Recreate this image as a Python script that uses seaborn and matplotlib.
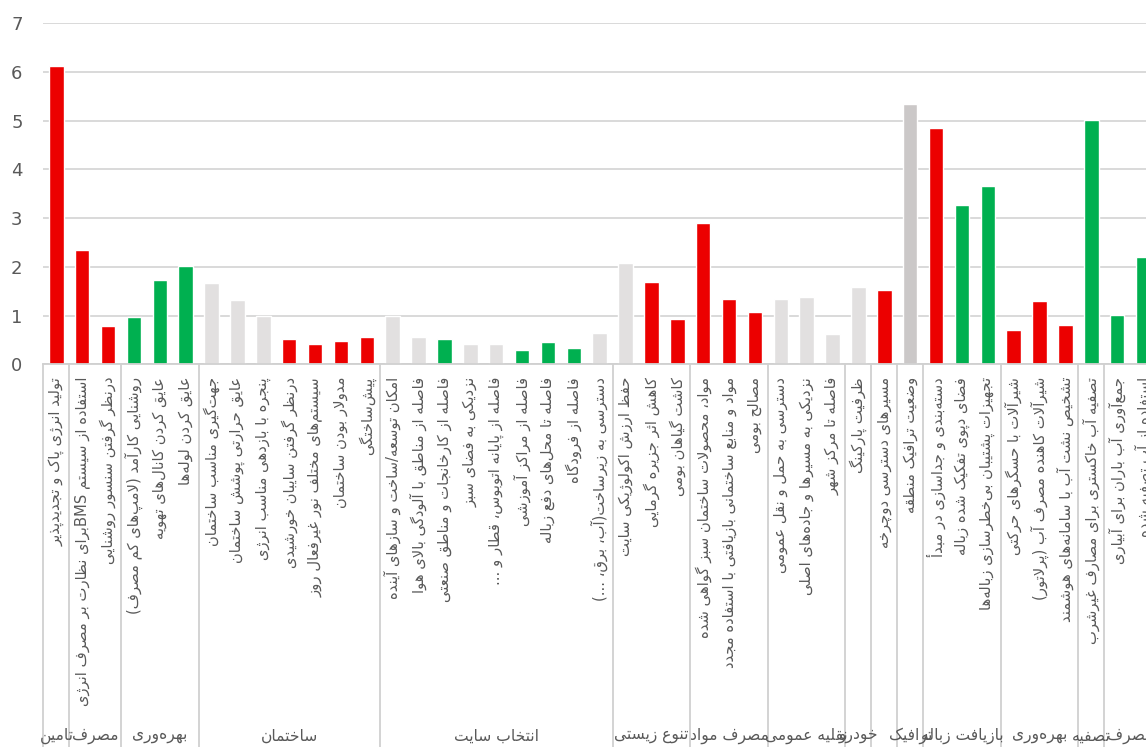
import matplotlib
matplotlib.use("Agg")
import matplotlib.pyplot as plt
import numpy as np
import pandas as pd
import seaborn as sns

# ---------------- data ----------------
items = [
    "تولید انرژی پاک و تجدیدپذیر",
    "استفاده از سیستم BMSبرای نظارت بر مصرف انرژی",
    "درنظر گرفتن سنسور روشنایی",
    "روشنایی کارآمد (لامپ\u200cهای کم مصرف)",
    "عایق کردن کانال\u200cهای تهویه",
    "عایق کردن لوله\u200cها",
    "جهت\u200cگیری مناسب ساختمان",
    "عایق حرارتی پوشش ساختمان",
    "پنجره با بازدهی مناسب انرژی",
    "درنظر گرفتن سایبان خورشیدی",
    "سیستم\u200cهای مختلف نور غیرفعال روز",
    "مدولار بودن ساختمان",
    "پیش\u200cساختگی",
    "امکان توسعه/ساخت و سازهای آینده",
    "فاصله از مناطق با آلودگی بالای هوا",
    "فاصله از کارخانجات و مناطق صنعتی",
    "نزدیکی به فضای سبز",
    "فاصله از پایانه اتوبوس، قطار و ...",
    "فاصله از مراکز آموزشی",
    "فاصله تا محل\u200cهای دفع زباله",
    "فاصله از فرودگاه",
    "دسترسی به زیرساخت(آب، برق، ...)",
    "حفظ ارزش اکولوژیکی سایت",
    "کاهش اثر جزیره گرمایی",
    "کاشت گیاهان بومی",
    "مواد، محصولات ساختمان سبز گواهی شده",
    "مواد و منابع ساختمانی بازیافتی با استفاده مجدد",
    "مصالح بومی",
    "دسترسی به حمل و نقل عمومی",
    "نزدیکی به مسیرها و جاده\u200cهای اصلی",
    "فاصله تا مرکز شهر",
    "ظرفیت پارکینگ",
    "مسیرهای دسترسی دوچرخه",
    "وضعیت ترافیک منطقه",
    "دسته\u200cبندی و جداسازی در مبدأ",
    "فضای دپوی تفکیک شده زباله",
    "تجهیزات پشتیبان بی\u200cخطرسازی زباله\u200cها",
    "شیرآلات با حسگرهای حرکتی",
    "شیرآلات کاهنده مصرف آب (پرلاتور)",
    "تشخیص نشت آب با سامانه\u200cهای هوشمند",
    "تصفیه آب خاکستری برای مصارف غیرشرب",
    "جمع\u200cآوری آب باران برای آبیاری",
    "استفاده از آب تصفیه شده",
]

values = [6.12, 2.35, 0.79, 0.97, 1.73, 2.02, 1.67, 1.32, 0.99, 0.52,
          0.43, 0.49, 0.57, 1.00, 0.57, 0.53, 0.43, 0.43, 0.29, 0.47,
          0.33, 0.65, 2.09, 1.70, 0.94, 2.89, 1.34, 1.08, 1.34, 1.39,
          0.63, 1.59, 1.52, 5.33, 4.85, 3.26, 3.66, 0.71, 1.30, 0.81,
          5.02, 1.01, 2.20]

status = ["r", "r", "r", "g", "g", "g", "l", "l", "l", "r",
          "r", "r", "r", "l", "l", "g", "l", "l", "g", "g",
          "g", "l", "l", "r", "r", "r", "r", "r", "l", "l",
          "l", "l", "r", "d", "r", "g", "g", "r", "r", "r",
          "g", "g", "g"]

group_names = ["تامین", "مصرف", "بهره\u200cوری", "ساختمان", "انتخاب سایت",
               "تنوع زیستی", "مصرف مواد", "نقلیه عمومی", "خودرو", "",
               "ترافیک", "بازیافت زباله", "بهره\u200cوری", "تصفیه", "مصرف"]
group_sizes = [1, 2, 3, 7, 9, 3, 3, 3, 1, 1, 1, 3, 3, 1, 2]

# ---------------- Persian shaping (presentation forms + visual order) ----------------
FORMS = {
    '\u0622': ('\uFE81', '\uFE82'), '\u0623': ('\uFE83', '\uFE84'),
    '\u0624': ('\uFE85', '\uFE86'), '\u0625': ('\uFE87', '\uFE88'),
    '\u0626': ('\uFE89', '\uFE8A', '\uFE8B', '\uFE8C'),
    '\u0627': ('\uFE8D', '\uFE8E'),
    '\u0628': ('\uFE8F', '\uFE90', '\uFE91', '\uFE92'),
    '\u0629': ('\uFE93', '\uFE94'),
    '\u062A': ('\uFE95', '\uFE96', '\uFE97', '\uFE98'),
    '\u062B': ('\uFE99', '\uFE9A', '\uFE9B', '\uFE9C'),
    '\u062C': ('\uFE9D', '\uFE9E', '\uFE9F', '\uFEA0'),
    '\u062D': ('\uFEA1', '\uFEA2', '\uFEA3', '\uFEA4'),
    '\u062E': ('\uFEA5', '\uFEA6', '\uFEA7', '\uFEA8'),
    '\u062F': ('\uFEA9', '\uFEAA'), '\u0630': ('\uFEAB', '\uFEAC'),
    '\u0631': ('\uFEAD', '\uFEAE'), '\u0632': ('\uFEAF', '\uFEB0'),
    '\u0633': ('\uFEB1', '\uFEB2', '\uFEB3', '\uFEB4'),
    '\u0634': ('\uFEB5', '\uFEB6', '\uFEB7', '\uFEB8'),
    '\u0635': ('\uFEB9', '\uFEBA', '\uFEBB', '\uFEBC'),
    '\u0636': ('\uFEBD', '\uFEBE', '\uFEBF', '\uFEC0'),
    '\u0637': ('\uFEC1', '\uFEC2', '\uFEC3', '\uFEC4'),
    '\u0638': ('\uFEC5', '\uFEC6', '\uFEC7', '\uFEC8'),
    '\u0639': ('\uFEC9', '\uFECA', '\uFECB', '\uFECC'),
    '\u063A': ('\uFECD', '\uFECE', '\uFECF', '\uFED0'),
    '\u0641': ('\uFED1', '\uFED2', '\uFED3', '\uFED4'),
    '\u0642': ('\uFED5', '\uFED6', '\uFED7', '\uFED8'),
    '\u0643': ('\uFED9', '\uFEDA', '\uFEDB', '\uFEDC'),
    '\u0644': ('\uFEDD', '\uFEDE', '\uFEDF', '\uFEE0'),
    '\u0645': ('\uFEE1', '\uFEE2', '\uFEE3', '\uFEE4'),
    '\u0646': ('\uFEE5', '\uFEE6', '\uFEE7', '\uFEE8'),
    '\u0647': ('\uFEE9', '\uFEEA', '\uFEEB', '\uFEEC'),
    '\u0648': ('\uFEED', '\uFEEE'), '\u0649': ('\uFEEF', '\uFEF0'),
    '\u064A': ('\uFEF1', '\uFEF2', '\uFEF3', '\uFEF4'),
    '\u067E': ('\uFB56', '\uFB57', '\uFB58', '\uFB59'),
    '\u0686': ('\uFB7A', '\uFB7B', '\uFB7C', '\uFB7D'),
    '\u0698': ('\uFB8A', '\uFB8B'),
    '\u06A9': ('\uFB8E', '\uFB8F', '\uFB90', '\uFB91'),
    '\u06AF': ('\uFB92', '\uFB93', '\uFB94', '\uFB95'),
    '\u06CC': ('\uFBFC', '\uFBFD', '\uFBFE', '\uFBFF'),
}
LAMALEF = {'\u0627': ('\uFEFB', '\uFEFC'), '\u0622': ('\uFEF5', '\uFEF6'),
           '\u0623': ('\uFEF7', '\uFEF8'), '\u0625': ('\uFEF9', '\uFEFA')}
MIRROR = {'(': ')', ')': '(', '[': ']', ']': '['}


def shape(s):
    out = []
    n = len(s)
    i = 0
    while i < n:
        c = s[i]
        if c not in FORMS:
            if c != '\u200c':
                out.append(c)
            i += 1
            continue
        prev = s[i - 1] if i > 0 else None
        cprev = prev in FORMS and len(FORMS[prev]) == 4
        if c == '\u0644' and i + 1 < n and s[i + 1] in LAMALEF:
            lig = LAMALEF[s[i + 1]]
            out.append(lig[1] if cprev else lig[0])
            i += 2
            continue
        nxt = s[i + 1] if i + 1 < n else None
        f = FORMS[c]
        cnext = len(f) == 4 and nxt in FORMS
        if cprev and cnext:
            g = f[3]
        elif cprev:
            g = f[1]
        elif cnext:
            g = f[2]
        else:
            g = f[0]
        out.append(g)
        i += 1
    return ''.join(out)


def fa(s):
    t = shape(s)
    runs = []
    cur = ''
    cur_ltr = None
    for ch in t:
        is_ltr = ch.isascii() and ch.isalnum()
        if cur_ltr is None or is_ltr == cur_ltr:
            cur += ch
        else:
            runs.append((cur, cur_ltr))
            cur = ch
        cur_ltr = is_ltr
    if cur:
        runs.append((cur, cur_ltr))
    res = []
    for txt, ltr in reversed(runs):
        if ltr:
            res.append(txt)
        else:
            res.append(''.join(MIRROR.get(ch, ch) for ch in reversed(txt)))
    return ''.join(res)


# ---------------- plot ----------------
sns.set_theme(style="white")
plt.rcParams['font.family'] = ['DejaVu Sans']

W, H = 1146, 747
fig = plt.figure(figsize=(W / 100, H / 100), dpi=100)
left = 43.4 / W
bottom = (H - 364.5) / H
top = (H - 22.9) / H
ax = fig.add_axes([left, bottom, 1 - left, top - bottom])

df = pd.DataFrame({"item": items, "value": values, "status": status})
palette = {"r": "#EC0000", "g": "#00B050", "l": "#E2E0E0", "d": "#CBC8C8"}
sns.barplot(data=df, x="item", y="value", hue="status", palette=palette,
            order=items, dodge=False, width=0.56, saturation=1,
            legend=False, ax=ax)

ax.set_xlim(-0.5, (W - 56.3) / 25.875)
ax.set_ylim(0, 7)
ax.set_yticks(range(8))
ax.yaxis.grid(True, color="#D9D9D9", linewidth=1.4)
ax.xaxis.grid(False)
ax.set_axisbelow(True)
for side in ["left", "right", "top"]:
    ax.spines[side].set_visible(False)
ax.spines["bottom"].set_color("#D0D0D0")
ax.spines["bottom"].set_linewidth(1.3)
ax.set_xlabel("")
ax.set_ylabel("")

ax.set_xticks(range(len(items)))
ax.set_xticklabels([fa(t) for t in items], rotation=90, fontsize=10.6,
                   color="#595959", va="top", ha="center")
ax.tick_params(axis="x", length=0, pad=9)
ax.tick_params(axis="y", length=0, pad=15, labelsize=13, labelcolor="#595959")

# group separators and group labels (multi-level category axis)
trans = ax.get_xaxis_transform()
bounds = np.concatenate([[0], np.cumsum(group_sizes)]) - 0.5
for b in bounds:
    ax.plot([b, b], [0, -1.2], transform=trans, color="#D0D0D0",
            linewidth=1.3, clip_on=False)
starts = bounds[:-1]
for name, st, sz in zip(group_names, starts, group_sizes):
    if name:
        ax.text(st + sz / 2, -1.0875, fa(name), transform=trans,
                ha="center", va="center", fontsize=11.2, color="#595959")

fig.savefig("out.png", dpi=100)
